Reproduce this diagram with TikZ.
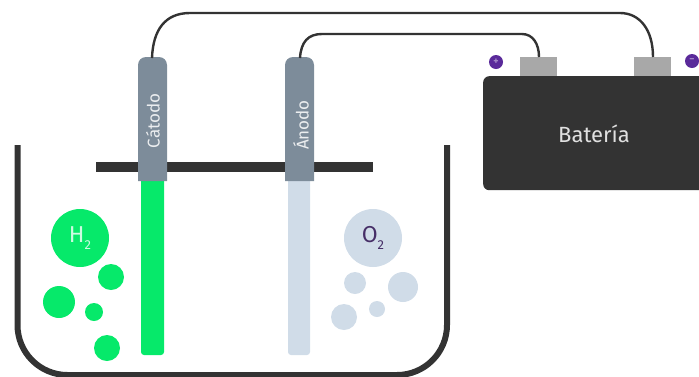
\documentclass[tikz,border=0pt]{standalone}
\usepackage{fontspec}
\setmainfont{Fira Sans}
\definecolor{darkc}{HTML}{333333}
\definecolor{elec}{HTML}{7D8C9A}
\definecolor{greenc}{HTML}{06E96A}
\definecolor{palec}{HTML}{D0DCE8}
\definecolor{termc}{HTML}{A8A8A8}
\definecolor{purp}{HTML}{5A2A9A}
\tikzset{
  wire/.style={draw=darkc,line width=2.4pt},
  electrode/.style={fill=elec},
  elabel/.style={rotate=90,text=white!85!elec,font=\fontsize{17}{17}\selectfont,inner sep=0pt},
  terminal/.style={fill=termc,draw=none,minimum width=37pt,minimum height=20pt,inner sep=0pt},
  pole/.style={circle,fill=purp,draw=none,minimum size=14pt,inner sep=0pt,text=purp!55!white,font=\fontsize{10}{10}\selectfont\bfseries},
  bub/.style={circle,draw=none,inner sep=0pt},
  gbub/.style={bub,fill=greenc},
  pbub/.style={bub,fill=palec},
}
\begin{document}
\begin{tikzpicture}[x=1pt,y=-1pt]
\useasboundingbox (0,0) rectangle (699,376);
\clip (0,0) rectangle (699,376);
% beaker
\draw[draw=darkc,line width=6pt,rounded corners=50pt] (17.5,145) -- (17.5,375) -- (447,375) -- (447,145);
% bar
\fill[darkc] (96,162) rectangle (373,172);
% plates
\fill[greenc,rounded corners=3pt] (141,175) -- (141,355) -- (164,355) -- (164,175) -- cycle;
\fill[palec,rounded corners=3pt] (288,175) -- (288,355) -- (310,355) -- (310,175) -- cycle;
% electrode heads
\fill[electrode] (138,181) [rounded corners=8pt] -- (138,57) -- (167,57) [sharp corners] -- (167,181) -- cycle;
\fill[electrode] (285,181) [rounded corners=8pt] -- (285,57) -- (314,57) [sharp corners] -- (314,181) -- cycle;
\coordinate (cat) at (152,58);
\coordinate (ano) at (300,58);
\node[elabel] (catl) at (153,121) {Cátodo};
\node[elabel] (anol) at (301,125) {Ánodo};
% battery
\node[terminal] (tl) at (538.5,66.5) {};
\node[terminal] (tr) at (652.5,66.5) {};
\node[fill=darkc,rounded corners=6pt,minimum width=240pt,minimum height=114pt,inner sep=0pt,anchor=north west] (bat) at (483,76) {};
\node[text=white!85!darkc,font=\fontsize{22}{22}\selectfont,inner sep=0pt] (batl) at (594,134) {Batería};
\node[pole] (pl) at (496,62) {+};
\node[pole] (pr) at (692,61) {−};
% wires
\draw[wire] (cat) .. controls (153,30) and (165,13) .. (190,13) -- (620,13) .. controls (640,13) and (653,30) .. (653,57);
\draw[wire] (ano) .. controls (301,42) and (308,34) .. (322,34) -- (522,34) .. controls (533,34) and (539,44) .. (539,57);
% bubbles
\node[gbub,minimum size=58pt,text=white!80!greenc,font=\fontsize{23}{23}\selectfont] (h2) at (80,238) {H\raisebox{-7pt}{\fontsize{13}{13}\selectfont 2}};
\node[gbub,minimum size=26pt] (g1) at (111,277) {};
\node[gbub,minimum size=32pt] (g2) at (59,302) {};
\node[gbub,minimum size=18pt] (g3) at (94,312) {};
\node[gbub,minimum size=26pt] (g4) at (107,348) {};
\node[pbub,minimum size=58pt,text=purp!50!darkc,font=\fontsize{23}{23}\selectfont] (o2) at (373,238) {O\raisebox{-7pt}{\fontsize{13}{13}\selectfont 2}};
\node[pbub,minimum size=22pt] (p1) at (355,283) {};
\node[pbub,minimum size=30pt] (p2) at (403,287) {};
\node[pbub,minimum size=16pt] (p3) at (377,309) {};
\node[pbub,minimum size=26pt] (p4) at (344,317) {};
\end{tikzpicture}
\end{document}
